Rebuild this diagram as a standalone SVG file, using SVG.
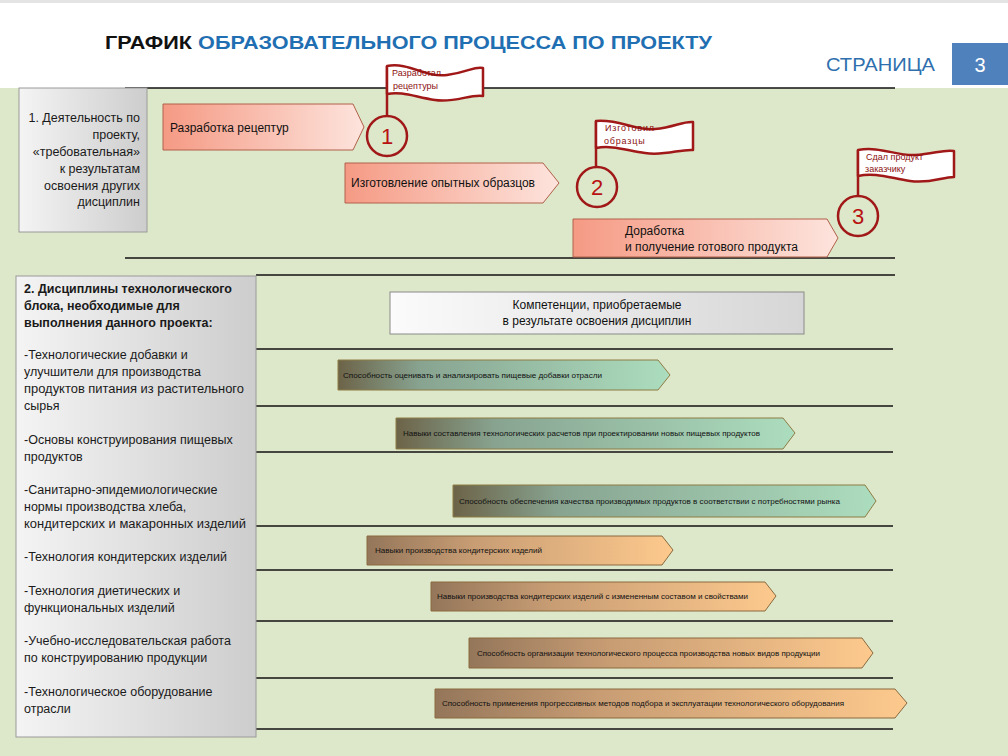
<svg xmlns="http://www.w3.org/2000/svg" width="1008" height="756" viewBox="0 0 1008 756">
<defs>
<linearGradient id="gBox" x1="0" y1="0" x2="1" y2="0"><stop offset="0" stop-color="#f4f4f4"/><stop offset="1" stop-color="#cdcdcd"/></linearGradient>
<linearGradient id="gComp" x1="0" y1="0" x2="1" y2="0"><stop offset="0" stop-color="#fbfbfb"/><stop offset="1" stop-color="#d6d6d6"/></linearGradient>
<linearGradient id="gSal" x1="0" y1="0" x2="1" y2="0"><stop offset="0" stop-color="#f59a84"/><stop offset="1" stop-color="#fde4dd"/></linearGradient>
<linearGradient id="gTeal" x1="0" y1="0" x2="1" y2="0"><stop offset="0" stop-color="#6c6348"/><stop offset="0.25" stop-color="#88a491"/><stop offset="1" stop-color="#acddbe"/></linearGradient>
<linearGradient id="gOr" x1="0" y1="0" x2="1" y2="0"><stop offset="0" stop-color="#94765a"/><stop offset="0.35" stop-color="#c89d74"/><stop offset="1" stop-color="#fdc98d"/></linearGradient>
</defs>
<style>
.t{font-family:"Liberation Sans",Arial,sans-serif;fill:#111}
.lt{font-family:"Liberation Sans",Arial,sans-serif;fill:#1a1a1a;font-size:12.5px}
.sm{font-family:"Liberation Sans",Arial,sans-serif;fill:#111;font-size:7.5px}
.fl{font-family:"Liberation Sans",Arial,sans-serif;fill:#8b1010;font-size:9px}
.hl{stroke:#111;stroke-width:1.3}
.sal{fill:url(#gSal);stroke:#b0604a;stroke-width:1}
.teal{fill:url(#gTeal);stroke:#8d7d45;stroke-width:1}
.or{fill:url(#gOr);stroke:#8a6a3e;stroke-width:1}
.flag{fill:#fff;stroke:#a01818;stroke-width:2.5;stroke-linejoin:round}
.pole{stroke:#a01818;stroke-width:2.5}
.circ{fill:none;stroke:#a01818;stroke-width:2.5}
.num{font-family:"Liberation Sans",Arial,sans-serif;font-size:22px;fill:#b81212;text-anchor:middle}
</style>
<rect x="0" y="0" width="1008" height="756" fill="#dde7c9"/>
<rect x="0" y="0" width="1008" height="88" fill="#ffffff"/>
<rect x="0" y="0" width="1008" height="3" fill="#e4e4e4"/>
<g id="header">
<text x="105" y="49" class="t" font-size="19" font-weight="bold" textLength="607" lengthAdjust="spacingAndGlyphs"><tspan fill="#111">ГРАФИК </tspan><tspan fill="#1f6fb2">ОБРАЗОВАТЕЛЬНОГО ПРОЦЕССА ПО ПРОЕКТУ</tspan></text>
<text x="826" y="71" font-family="Liberation Sans, Arial, sans-serif" font-size="19" fill="#2f6fae" textLength="109" lengthAdjust="spacingAndGlyphs">СТРАНИЦА</text>
<rect x="952" y="43" width="56" height="42" fill="#4f81bd"/>
<text x="980" y="72" font-family="Liberation Sans, Arial, sans-serif" font-size="20" fill="#ffffff" text-anchor="middle">3</text>
</g>
<g id="connectors">
<line class="hl" x1="125" y1="88" x2="895" y2="88"/>
<line class="hl" x1="125" y1="258" x2="895" y2="258"/>
<line class="hl" x1="256" y1="275" x2="895" y2="275"/>
<line class="hl" x1="256" y1="349" x2="893" y2="349"/>
<line class="hl" x1="256" y1="406" x2="893" y2="406"/>
<line class="hl" x1="256" y1="452" x2="893" y2="452"/>
<line class="hl" x1="256" y1="526" x2="893" y2="526"/>
<line class="hl" x1="256" y1="570" x2="893" y2="570"/>
<line class="hl" x1="256" y1="621" x2="893" y2="621"/>
<line class="hl" x1="256" y1="678" x2="893" y2="678"/>
<line class="hl" x1="256" y1="729" x2="893" y2="729"/>
</g>
<g id="box1">
<rect x="19" y="88" width="128" height="144" fill="url(#gBox)" stroke="#9a9a9a" stroke-width="1"/>
<text class="lt" text-anchor="end"><tspan x="140" y="122">1. Деятельность по</tspan><tspan x="140" y="139">проекту,</tspan><tspan x="140" y="156">«требовательная»</tspan><tspan x="140" y="173">к результатам</tspan><tspan x="140" y="190">освоения других</tspan><tspan x="140" y="206">дисциплин</tspan></text>
</g>
<g id="step1">
<polygon class="sal" points="163,104 353,104 364,127 353,150 163,150"/>
<text x="170" y="132" class="t" font-size="12">Разработка рецептур</text>
</g>
<g id="step2">
<polygon class="sal" points="345,163 543,163 559,183 543,203 345,203"/>
<text x="351" y="187" class="t" font-size="12" textLength="184" lengthAdjust="spacingAndGlyphs">Изготовление опытных образцов</text>
</g>
<g id="step3">
<polygon class="sal" points="573,219 827,219 838,238 827,257 573,257"/>
<text class="t" font-size="12"><tspan x="625" y="235">Доработка</tspan><tspan x="625" y="251" textLength="173" lengthAdjust="spacingAndGlyphs">и получение готового продукта</tspan></text>
</g>
<g id="milestone1">
<line class="pole" x1="387" y1="66" x2="387" y2="115"/>
<path class="flag" d="M387,66 C410,62 425,78 447,75 S474,66 483,68 L483,96 C470,94 455,103 435,100 S402,91 387,94 Z"/>
<text class="fl"><tspan x="392" y="76">Разработал</tspan><tspan x="393" y="89">рецептуры</tspan></text>
<circle class="circ" cx="387" cy="136" r="20"/>
<text x="387" y="144" class="num">1</text>
</g>
<g id="milestone2">
<line class="pole" x1="596" y1="121" x2="596" y2="167"/>
<path class="flag" d="M596,121 C620,119 635,131 655,129 S683,121 693,122 L693,150 C680,149 665,156 645,153 S612,145 596,148 Z"/>
<text class="fl" letter-spacing="0.8"><tspan x="605" y="131">Изготовил</tspan><tspan x="604" y="144">образцы</tspan></text>
<circle class="circ" cx="597" cy="187" r="20"/>
<text x="597" y="195" class="num">2</text>
</g>
<g id="milestone3">
<line class="pole" x1="858" y1="150" x2="858" y2="196"/>
<path class="flag" d="M858,150 C880,146 896,156 915,155 S944,149 954,151 L954,177 C942,177 930,184 910,181 S875,172 858,176 Z"/>
<text class="fl"><tspan x="866" y="160">Сдал продукт</tspan><tspan x="865" y="172">заказчику</tspan></text>
<circle class="circ" cx="858" cy="216" r="20"/>
<text x="858" y="224" class="num">3</text>
</g>
<g id="box2">
<rect x="16" y="276" width="240" height="461" fill="url(#gBox)" stroke="#9a9a9a" stroke-width="1"/>
<text class="lt" font-weight="bold" font-size="12"><tspan x="24" y="293" textLength="208" lengthAdjust="spacingAndGlyphs">2. Дисциплины технологического</tspan><tspan x="24" y="310">блока, необходимые для</tspan><tspan x="24" y="327">выполнения данного проекта:</tspan></text>
<text class="lt" font-size="12"><tspan x="24" y="359">-Технологические добавки и</tspan><tspan x="24" y="376">улучшители для производства</tspan><tspan x="24" y="393" textLength="220" lengthAdjust="spacingAndGlyphs">продуктов питания из растительного</tspan><tspan x="24" y="410">сырья</tspan><tspan x="24" y="444">-Основы конструирования пищевых</tspan><tspan x="24" y="461">продуктов</tspan><tspan x="24" y="494">-Санитарно-эпидемиологические</tspan><tspan x="24" y="511">нормы производства хлеба,</tspan><tspan x="24" y="528" textLength="222" lengthAdjust="spacingAndGlyphs">кондитерских и макаронных изделий</tspan><tspan x="24" y="561">-Технология кондитерских изделий</tspan><tspan x="24" y="595">-Технология диетических и</tspan><tspan x="24" y="612">функциональных изделий</tspan><tspan x="24" y="645">-Учебно-исследовательская работа</tspan><tspan x="24" y="662">по конструированию продукции</tspan><tspan x="24" y="696">-Технологическое оборудование</tspan><tspan x="24" y="713">отрасли</tspan></text>
</g>
<g id="competences">
<rect x="390" y="292" width="414" height="42" fill="url(#gComp)" stroke="#8a8a8a" stroke-width="1"/>
<text class="t" font-size="12" text-anchor="middle"><tspan x="597" y="309">Компетенции, приобретаемые</tspan><tspan x="597" y="325">в результате освоения дисциплин</tspan></text>
</g>
<g id="comp1">
<polygon class="teal" points="338,360 658,360 670,375 658,390 338,390"/>
<text x="343" y="377.5" class="sm" textLength="259" lengthAdjust="spacingAndGlyphs">Способность оценивать и анализировать пищевые добавки отрасли</text>
</g>
<g id="comp2">
<polygon class="teal" points="396,418 783,418 795,433 783,449 396,449"/>
<text x="403" y="436" class="sm" textLength="357" lengthAdjust="spacingAndGlyphs">Навыки составления технологических расчетов при проектировании новых пищевых продуктов</text>
</g>
<g id="comp3">
<polygon class="teal" points="453,485 865,485 876,501 865,517 453,517"/>
<text x="459" y="504" class="sm" textLength="381" lengthAdjust="spacingAndGlyphs">Способность обеспечения качества производимых продуктов в соответствии с потребностями рынка</text>
</g>
<g id="comp4">
<polygon class="or" points="367,536 662,536 673,550 662,565 367,565"/>
<text x="375" y="553" class="sm" textLength="167" lengthAdjust="spacingAndGlyphs">Навыки производства кондитерских изделий</text>
</g>
<g id="comp5">
<polygon class="or" points="431,582 765,582 776,596 765,611 431,611"/>
<text x="437" y="599" class="sm" textLength="311" lengthAdjust="spacingAndGlyphs">Навыки производства кондитерских изделий с измененным составом и свойствами</text>
</g>
<g id="comp6">
<polygon class="or" points="469,638 862,638 873,653 862,668 469,668"/>
<text x="477" y="656" class="sm" textLength="343" lengthAdjust="spacingAndGlyphs">Способность организации технологического процесса производства новых видов продукции</text>
</g>
<g id="comp7">
<polygon class="or" points="435,689 895,689 907,703 895,718 435,718"/>
<text x="442" y="706" class="sm" textLength="402" lengthAdjust="spacingAndGlyphs">Способность применения прогрессивных методов подбора и эксплуатации технологического оборудования</text>
</g>
</svg>
